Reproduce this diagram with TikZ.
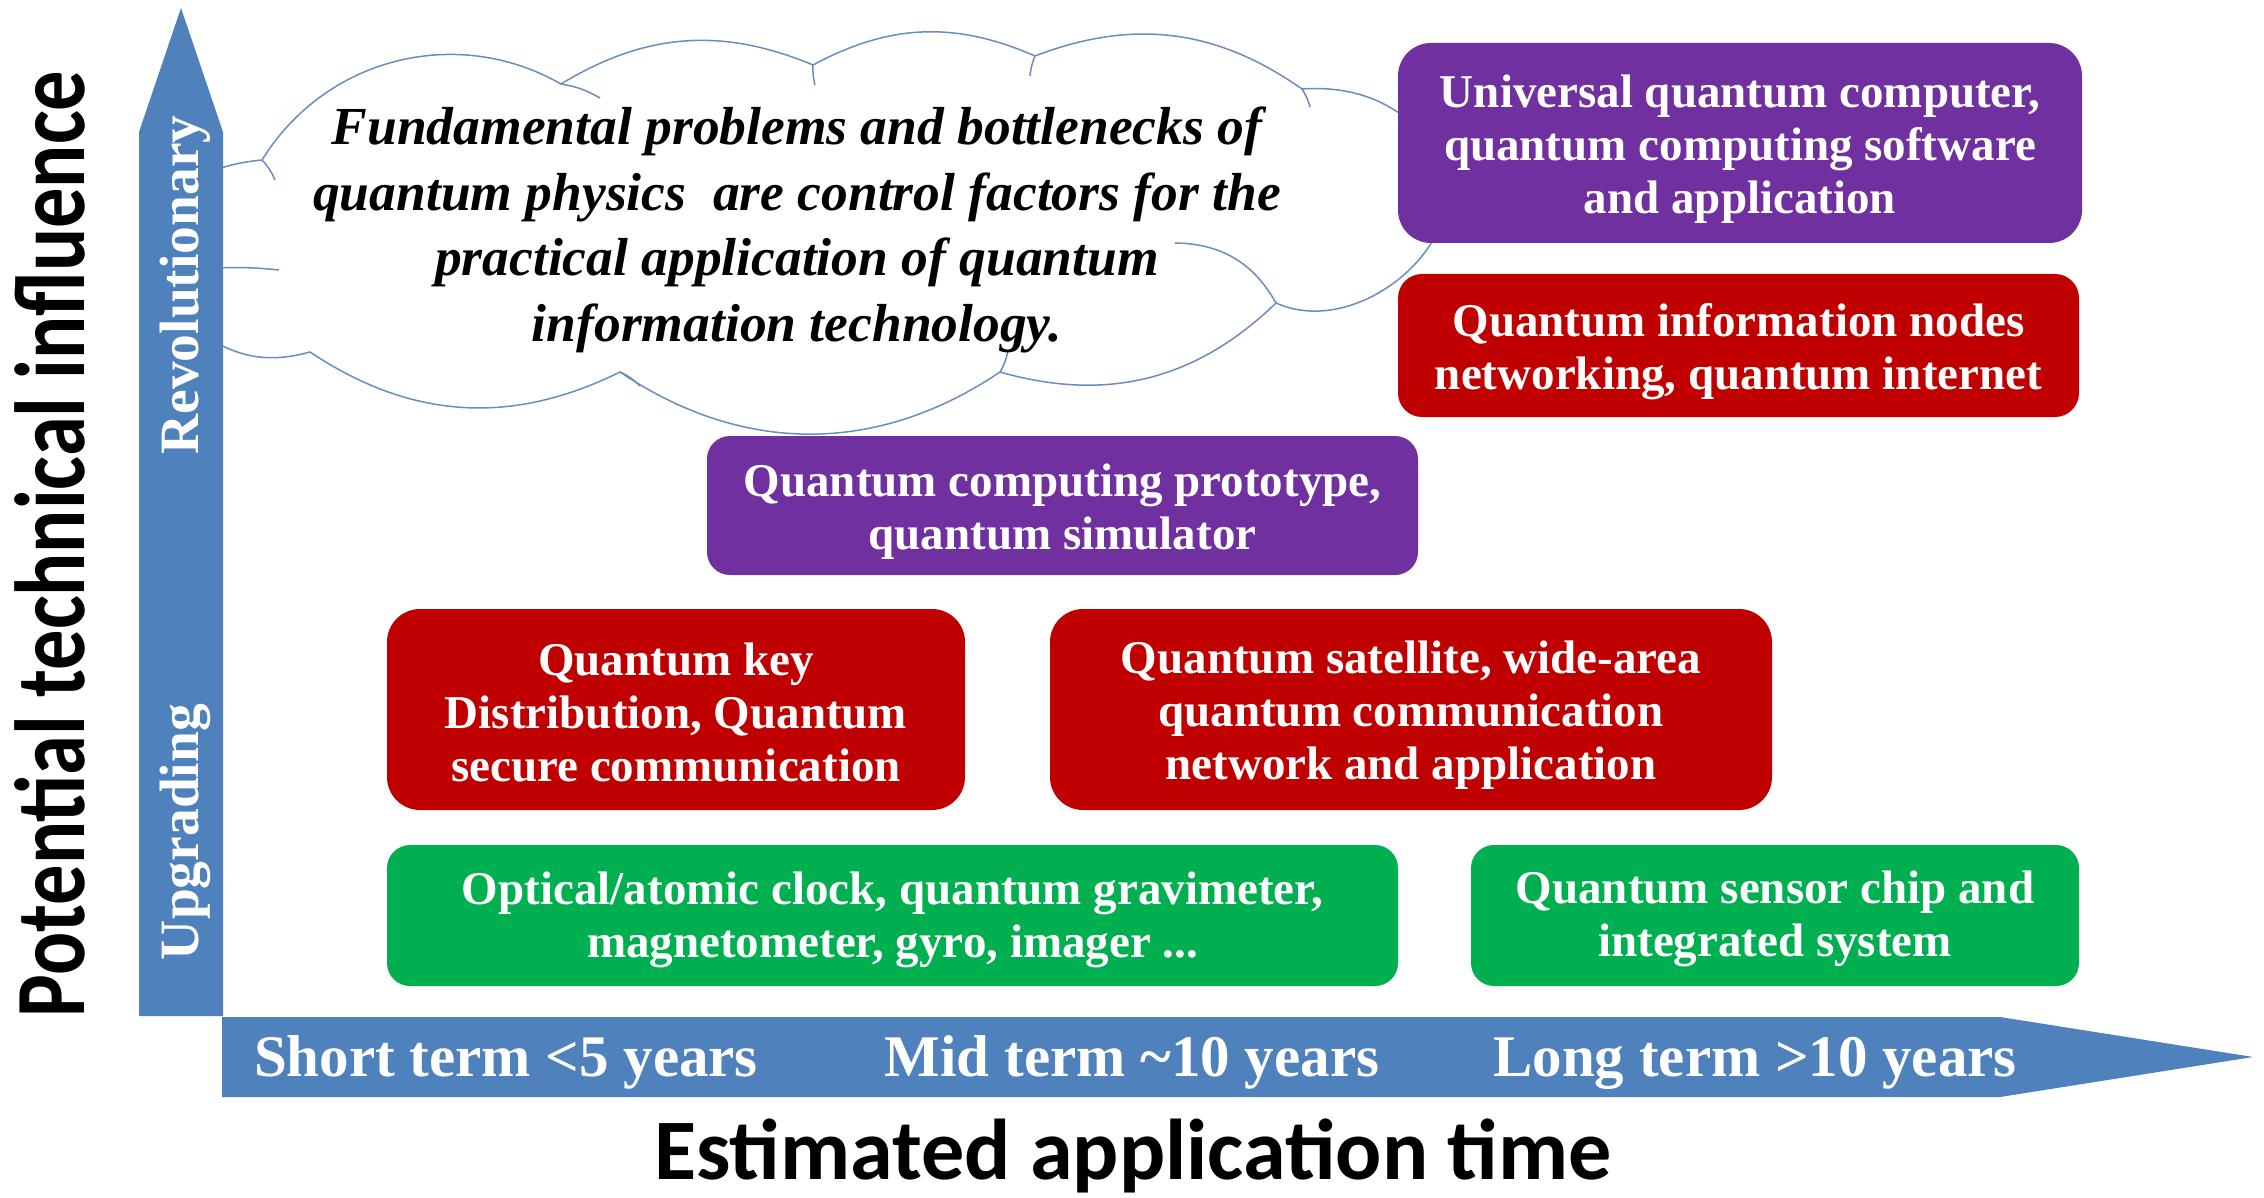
\documentclass[tikz,border=0pt]{standalone}
\usepackage{fontspec}
\setmainfont{Liberation Serif}
\newfontfamily\carlito{Carlito}
\definecolor{axisblue}{HTML}{4F81BD}
\definecolor{qpurple}{HTML}{7030A0}
\definecolor{qred}{HTML}{C00000}
\definecolor{qgreen}{HTML}{00B050}
\definecolor{cloudline}{HTML}{6A8DBF}
\begin{document}
\begin{tikzpicture}[x=1pt,y=-1pt,
  qbox/.style={inner sep=0pt},
  qtext/.style={text=white, align=center, inner sep=0pt,
    font=\fontsize{47}{53}\selectfont\bfseries},
  axislabel/.style={text=white, inner sep=0pt, rotate=90, anchor=base,
    font=\fontsize{55.5}{60}\selectfont\bfseries},
  timelabel/.style={text=white, inner sep=0pt, anchor=base,
    font=\fontsize{59}{64}\selectfont\bfseries},
  cloudstroke/.style={draw=cloudline, line width=1.5pt}]
\useasboundingbox (0,0) rectangle (2264,1198);
\fill[white] (0,0) rectangle (2264,1198);

% cloud outline
\path[cloudstroke, fill=white]
  (262,160) to[bend left=44] (561,84)
  to[bend left=27] (813,65)
  to[bend left=26] (1035,56)
  to[bend left=28] (1302,89)
  to[bend left=33] (1448,170)
  to[bend left=62] (1276,303)
  to[bend left=30] (1000,372)
  to[bend left=34] (620,372)
  to[bend left=30] (310,352)
  to[bend left=24] (205,336)
  -- (205,174)
  to[bend left=8] (262,160) -- cycle;
% inner tails of the cloud arcs
\draw[cloudstroke] (561,84) to[bend left=10] (600,98);
\draw[cloudstroke] (813,65) to[bend right=8] (815,85);
\draw[cloudstroke] (1035,56) to[bend right=8] (1030,76);
\draw[cloudstroke] (1302,89) to[bend left=8] (1310,107);
\draw[cloudstroke] (1175,243) to[bend left=30] (1276,303);
\draw[cloudstroke] (1000,372) to[bend right=10] (1008,350);
\draw[cloudstroke] (620,372) to[bend left=10] (640,386);
\draw[cloudstroke] (262,160) to[bend left=10] (275,180);
\draw[cloudstroke] (215,268) to[bend left=4] (279,270);

\node[align=center, inner sep=0pt,
  font=\fontsize{53.5}{65.8}\selectfont\bfseries\itshape] (cloudtext) at (797,230)
  {Fundamental problems and bottlenecks of\\
   quantum physics\ \ are control factors for the\\
   practical application of quantum\\
   information technology.};

% axes
\fill[axisblue] (139,1016) -- (139,132) -- (181,8) -- (223,132) -- (223,1016) -- cycle;
\fill[axisblue] (222,1017) -- (2000,1017) -- (2253,1057) -- (2000,1097) -- (222,1097) -- cycle;

\node[axislabel] (revo) at (198,285) {Revolutionary};
\node[axislabel] (upgr) at (198,832) {Upgrading};

\node[timelabel] (short) at (506,1076) {Short term <5 years};
\node[timelabel] (mid) at (1132,1076) {Mid term \textasciitilde10 years};
\node[timelabel] (long) at (1755,1076) {Long term >10 years};

\node[inner sep=0pt, anchor=base] (xtitle) at (1133,1179)
  {\resizebox{957pt}{!}{\carlito\bfseries Estimated application time}};
\node[inner sep=0pt, anchor=base, rotate=90] (ytitle) at (84,544)
  {\resizebox{946pt}{70pt}{\carlito\bfseries Potential technical influence}};

% boxes
\node[qbox, fill=qpurple, minimum width=684pt, minimum height=200pt, rounded corners=33pt]
  (univ) at (1740,143) {};
\node[qtext] (univtext) at ([yshift=-6pt]univ.center)
  {Universal quantum computer,\\ quantum computing software\\ and application};
\node[qbox, fill=qred, minimum width=681pt, minimum height=143pt, rounded corners=24pt]
  (qinfo) at (1738.5,345.5) {};
\node[qtext] (qinfotext) at ([yshift=-6pt]qinfo.center)
  {Quantum information nodes\\ networking, quantum internet};
\node[qbox, fill=qpurple, minimum width=711pt, minimum height=139pt, rounded corners=23pt]
  (qcomp) at (1062.5,505.5) {};
\node[qtext] (qcomptext) at ([yshift=-6pt]qcomp.center)
  {Quantum computing prototype,\\ quantum simulator};
\node[qbox, fill=qred, minimum width=578pt, minimum height=201pt, rounded corners=33pt]
  (qkd) at (676,709.5) {};
\node[qtext] (qkdtext) at ([yshift=-3pt]qkd.center)
  {Quantum key\\ Distribution, Quantum\\ secure communication};
\node[qbox, fill=qred, minimum width=722pt, minimum height=201pt, rounded corners=33pt]
  (qsat) at (1411,709.5) {};
\node[qtext] (qsattext) at ([yshift=-6pt]qsat.center)
  {Quantum satellite, wide-area\\ quantum communication\\ network and application};
\node[qbox, fill=qgreen, minimum width=1011pt, minimum height=141pt, rounded corners=23pt]
  (sensor) at (892.5,915.5) {};
\node[qtext] (sensortext) at ([yshift=-4pt]sensor.center)
  {Optical/atomic clock, quantum gravimeter,\\ magnetometer, gyro, imager ...};
\node[qbox, fill=qgreen, minimum width=608pt, minimum height=141pt, rounded corners=23pt]
  (chip) at (1775,915.5) {};
\node[qtext] (chiptext) at ([yshift=-3pt]chip.center)
  {Quantum sensor chip and\\ integrated system};
\end{tikzpicture}
\end{document}
